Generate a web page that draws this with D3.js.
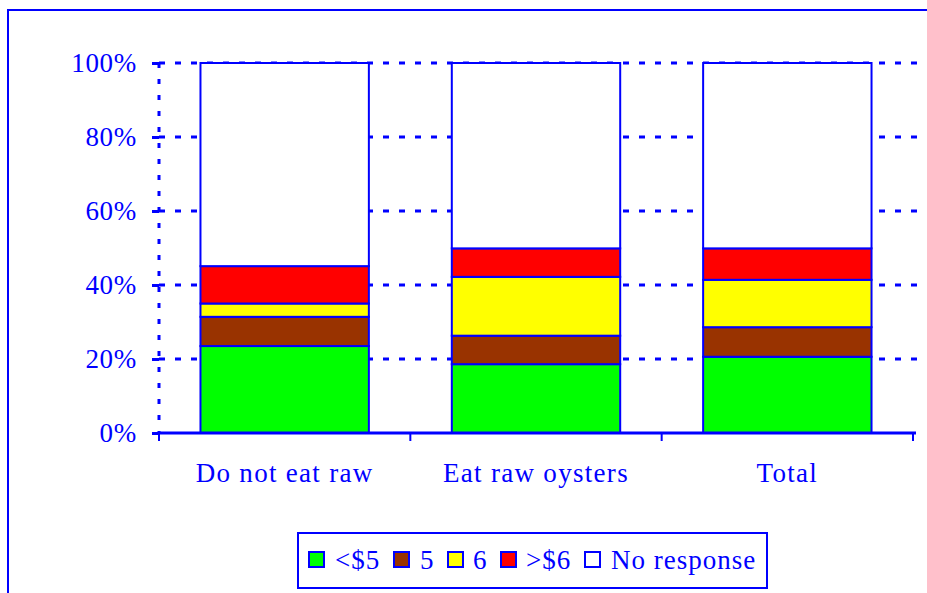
<!DOCTYPE html>
<html><head><meta charset="utf-8">
<script src="https://cdn.jsdelivr.net/npm/d3@7"></script>
<style>
html,body{margin:0;padding:0;background:#fff;}
svg{display:block;}
text{font-family:"Liberation Serif","Times New Roman",serif;fill:#0000FF;}
</style></head>
<body>
<svg id="chart" width="927" height="593"></svg>
<script>
const categories = ["Do not eat raw", "Eat raw oysters", "Total"];
const seriesNames = ["<$5", "5", "6", ">$6", "No response"];
const seriesColors = ["#00FF00", "#993300", "#FFFF00", "#FF0000", "#FFFFFF"];
const lessThan5 = [23.5, 18.6, 20.6];
const five = [7.9, 7.7, 8.0];
const six = [3.6, 15.9, 12.8];
const moreThan6 = [10.1, 7.7, 8.5];
const noResponse = [54.9, 50.1, 50.1];
const yTicks = [0, 20, 40, 60, 80, 100];

const blue = "#0000FF";
const svg = d3.select("#chart");

// outer frame
svg.append("rect").attr("x", 8).attr("y", 10).attr("width", 1000).attr("height", 700)
  .attr("fill", "none").attr("stroke", blue).attr("stroke-width", 2);

const y = d3.scaleLinear().domain([0, 100]).range([433, 63]);
const x = d3.scaleBand().domain(categories).range([159, 913]).padding(0);
const barFrac = 0.67;

const table = categories.map((c, i) => ({
  cat: c,
  "<$5": lessThan5[i], "5": five[i], "6": six[i], ">$6": moreThan6[i], "No response": noResponse[i]
}));
const stacked = d3.stack().keys(seriesNames)(table);

// gridlines
svg.append("g").selectAll("line").data(yTicks.filter(t => t > 0)).join("line")
  .attr("x1", 159).attr("x2", 917)
  .attr("y1", d => y(d)).attr("y2", d => y(d))
  .attr("stroke", blue).attr("stroke-width", 3).attr("stroke-dasharray", "6,10");

// y axis (dotted)
svg.append("line").attr("x1", 159).attr("x2", 159).attr("y1", y(100)).attr("y2", y(0))
  .attr("stroke", blue).attr("stroke-width", 3).attr("stroke-dasharray", "5,11");

// y ticks and labels
const yAxis = d3.axisLeft(y).tickValues(yTicks).tickFormat(d => d + "%").tickSize(7).tickPadding(15);
const gy = svg.append("g").attr("transform", "translate(159,0)").call(yAxis);
gy.select(".domain").remove();
gy.selectAll(".tick line").attr("stroke", blue).attr("stroke-width", 3);
gy.selectAll(".tick text").attr("font-size", 27).attr("letter-spacing", 0.7)
  .attr("font-family", "Liberation Serif").attr("fill", blue);

// bars
const bw = x.bandwidth() * barFrac;
svg.append("g").selectAll("g").data(stacked).join("g")
  .attr("fill", (d, i) => seriesColors[i])
  .selectAll("rect").data(d => d).join("rect")
  .attr("x", d => x(d.data.cat) + (x.bandwidth() - bw) / 2)
  .attr("width", bw)
  .attr("y", d => y(d[1]))
  .attr("height", d => y(d[0]) - y(d[1]))
  .attr("stroke", blue).attr("stroke-width", 2);

// x axis
svg.append("line").attr("x1", 159).attr("x2", 916).attr("y1", y(0)).attr("y2", y(0))
  .attr("stroke", blue).attr("stroke-width", 3);
const boundaries = categories.map(c => x(c)).concat([x.range()[1]]);
svg.append("g").selectAll("line").data(boundaries).join("line")
  .attr("x1", d => d).attr("x2", d => d).attr("y1", y(0)).attr("y2", y(0) + 8)
  .attr("stroke", blue).attr("stroke-width", 2);
svg.append("g").selectAll("text").data(categories).join("text")
  .attr("x", d => x(d) + x.bandwidth() / 2).attr("y", 482)
  .attr("text-anchor", "middle").attr("font-size", 27).attr("letter-spacing", 1.3)
  .text(d => d);

// legend
const lg = svg.append("g");
lg.append("rect").attr("x", 298).attr("y", 533).attr("width", 469).attr("height", 55)
  .attr("fill", "#fff").attr("stroke", blue).attr("stroke-width", 2);
const swX = [308, 393, 447, 500, 584];
const txX = [335, 420, 473, 526, 611];
seriesNames.forEach((s, i) => {
  lg.append("rect").attr("x", swX[i] + 1).attr("y", 552).attr("width", 15).attr("height", 15)
    .attr("fill", seriesColors[i]).attr("stroke", blue).attr("stroke-width", 2);
  lg.append("text").attr("x", txX[i]).attr("y", 569).attr("font-size", 27)
    .attr("letter-spacing", 1).text(s);
});
</script>
</body></html>
